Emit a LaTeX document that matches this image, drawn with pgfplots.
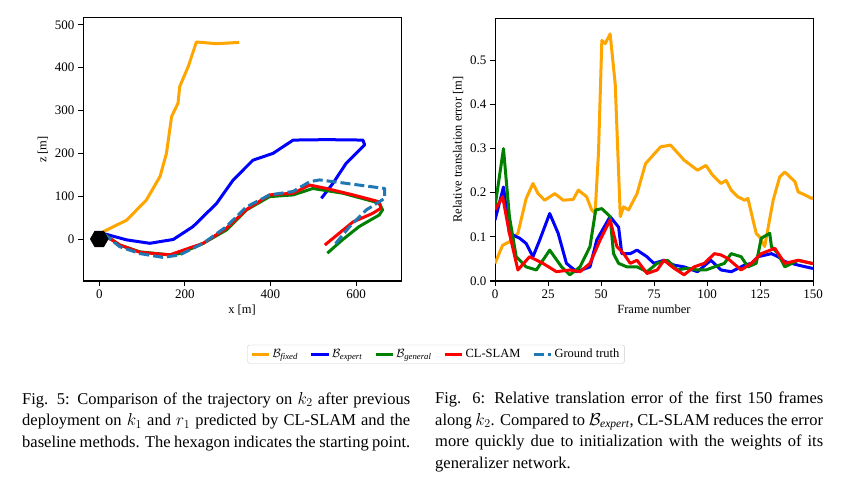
\documentclass[border=0pt]{standalone}
\usepackage{pgfplots}
\pgfplotsset{compat=1.18}
\usepackage{fontspec}
\setmainfont{Liberation Serif}
\definecolor{gt}{RGB}{31,119,180}
\definecolor{myor}{RGB}{255,165,0}
\definecolor{mygr}{RGB}{0,128,0}
\pgfdeclareplotmark{hexagon}{%
\pgfpathmoveto{\pgfqpointpolar{0}{\pgfplotmarksize}}%
\pgfpathlineto{\pgfqpointpolar{60}{\pgfplotmarksize}}%
\pgfpathlineto{\pgfqpointpolar{120}{\pgfplotmarksize}}%
\pgfpathlineto{\pgfqpointpolar{180}{\pgfplotmarksize}}%
\pgfpathlineto{\pgfqpointpolar{240}{\pgfplotmarksize}}%
\pgfpathlineto{\pgfqpointpolar{300}{\pgfplotmarksize}}%
\pgfpathclose\pgfusepathqfillstroke}
\begin{document}
\begin{tikzpicture}[x=1pt,y=1pt]
\path[fill=white] (0,0) rectangle (843,-494);
\pgfplotsset{every axis/.append style={scale only axis,width=318pt,height=263pt,
 tick label style={font=\fontsize{13}{14}\selectfont},label style={font=\fontsize{12.5}{14}\selectfont},
 /pgf/number format/assume math mode=true, tick align=outside, tick pos=left, axis line style={line width=1pt},
 major tick length=5pt, every tick/.style={line width=1pt,black},
 every axis plot/.append style={line width=3pt, line join=round}}}
\begin{axis}[at={(83pt,-281pt)},anchor=south west,xmin=-38,xmax=705,ymin=-98,ymax=516,
 xtick={0,200,400,600},ytick={0,100,200,300,400,500},xlabel={x [m]},ylabel={z [m]},
 legend columns=5, legend style={at={(1.11,-0.278)},anchor=center,font=\fontsize{12.5}{14}\selectfont,
 draw=black!20, rounded corners=2pt, /tikz/every even column/.append style={column sep=10pt}},
 legend cell align=left]
\addplot[myor] coordinates {(9,17)(64,44)(110,91)(142,146)(157,200)(169,286)(184,317)(188,356)(208,403)(227,460)(274,456)(327,459)};
\addlegendentry{$\mathcal{B}_{\mathit{fixed}}$}
\addplot[blue] coordinates {(9,13)(64,-2)(118,-10)(173,-1)(219,29)(274,83)(313,138)(359,184)(406,200)(453,231)(531,232)(616,231)(620,220)(577,177)(546,130)(519,95)};
\addlegendentry{$\mathcal{B}_{\mathit{expert}}$}
\addplot[mygr] coordinates {(9,13)(48,-14)(95,-30)(165,-37)(188,-34)(243,-10)(297,21)(344,68)(398,99)(453,103)(499,118)(569,107)(654,84)(662,68)(654,56)(607,29)(568,-2)(533,-33)};
\addlegendentry{$\mathcal{B}_{\mathit{general}}$}
\addplot[red] coordinates {(9,11)(48,-14)(95,-31)(165,-37)(196,-26)(243,-10)(297,25)(344,69)(398,103)(453,107)(492,126)(531,118)(593,103)(654,87)(658,72)(639,60)(593,40)(527,-14)};
\addlegendentry{CL-SLAM}
\addplot[gt,dash pattern=on 10pt off 4pt] coordinates {(9,13)(48,-18)(95,-34)(149,-43)(188,-37)(243,-10)(297,29)(344,75)(398,103)(453,111)(492,134)(515,138)(569,131)(667,118)(667,95)(624,68)(585,29)(546,-18)};
\addlegendentry{Ground truth}
\addplot[forget plot,only marks,mark=hexagon,mark size=9pt,black,fill=black,line width=0.5pt] coordinates {(0,0)};
\end{axis}
\begin{axis}[at={(495pt,-281pt)},anchor=south west,xmin=0,xmax=150,ymin=0,ymax=0.596,
 xtick={0,25,50,75,100,125,150},ytick={0,0.1,0.2,0.3,0.4,0.5},
 yticklabel style={/pgf/number format/fixed,/pgf/number format/fixed zerofill,/pgf/number format/precision=1},
 xlabel={Frame number},ylabel={Relative translation error [m]}]
\addplot[myor] coordinates {(0,0.040)(3.6,0.081)(6.8,0.089)(10.8,0.108)(14.7,0.187)(17.9,0.221)(20.3,0.198)(23.4,0.183)(28.2,0.198)(32.2,0.183)(36.9,0.185)(39.3,0.206)(43.2,0.191)(45.6,0.161)(47.2,0.153)(48.8,0.289)(50.4,0.545)(52.0,0.538)(54.3,0.560)(56.7,0.447)(59.1,0.146)(60.7,0.168)(63.0,0.161)(67.0,0.198)(71.0,0.266)(78.1,0.304)(82.8,0.308)(89.2,0.274)(95.5,0.251)(99.5,0.262)(102.6,0.240)(106.6,0.221)(109.0,0.228)(111.4,0.206)(114.5,0.191)(117.7,0.183)(119.3,0.187)(123.2,0.108)(124.8,0.100)(127.2,0.078)(131.2,0.183)(134.3,0.236)(136.7,0.247)(141.5,0.225)(143.0,0.202)(146.2,0.195)(149.4,0.187)(150,0.19)};
\addplot[blue] coordinates {(0,0.138)(4.0,0.213)(6.8,0.108)(11.6,0.097)(14.7,0.085)(17.9,0.055)(21.1,0.093)(25.8,0.153)(29.8,0.108)(33.7,0.040)(38.5,0.021)(44.8,0.032)(48.0,0.093)(54.3,0.146)(58.3,0.122)(59.8,0.062)(63.8,0.062)(67.0,0.070)(71.7,0.055)(74.9,0.040)(79.7,0.047)(84.4,0.036)(89.2,0.032)(95.5,0.021)(101.8,0.047)(106.6,0.025)(111.4,0.021)(117.7,0.036)(120.9,0.040)(124.0,0.055)(130.4,0.062)(133.5,0.055)(136.7,0.044)(143.0,0.036)(149.4,0.029)(150,0.028)};
\addplot[mygr] coordinates {(0,0.168)(4.0,0.300)(6.8,0.146)(10.0,0.055)(14.7,0.032)(19.5,0.025)(25.8,0.070)(31.4,0.032)(35.3,0.014)(40.1,0.032)(44.8,0.078)(47.5,0.161)(50.4,0.164)(54.3,0.146)(55.9,0.062)(58.3,0.040)(62.2,0.032)(67.0,0.032)(71.7,0.021)(76.5,0.040)(81.3,0.047)(86.0,0.025)(90.8,0.029)(95.5,0.025)(99.5,0.025)(103.5,0.032)(108.2,0.040)(111.4,0.062)(116.1,0.055)(119.3,0.032)(123.2,0.040)(125.6,0.097)(129.6,0.108)(130.4,0.078)(133.5,0.062)(136.7,0.032)(143.0,0.047)(149.4,0.040)(150,0.04)};
\addplot[red] coordinates {(0,0.161)(3.6,0.191)(6.8,0.108)(10.8,0.025)(16.3,0.055)(22.6,0.040)(29.0,0.021)(35.3,0.025)(40.1,0.021)(44.8,0.040)(49.6,0.093)(54.3,0.138)(57.5,0.078)(60.7,0.062)(63.8,0.040)(67.0,0.047)(71.7,0.017)(76.5,0.025)(79.7,0.047)(84.4,0.029)(89.2,0.014)(93.9,0.032)(98.7,0.040)(103.5,0.062)(106.6,0.059)(109.8,0.051)(116.1,0.025)(120.9,0.040)(125.6,0.062)(132.0,0.074)(136.7,0.040)(143.0,0.047)(149.4,0.040)(150,0.04)};
\end{axis}
\node[anchor=north west,text width=388pt,align=justify,inner sep=0pt,font=\fontsize{16.5}{21.5}\selectfont] at (22,-392)
{Fig. 5: Comparison of the trajectory on $k_2$ after previous deployment on $k_1$ and $r_1$ predicted by CL-SLAM and the baseline methods. The hexagon indicates the starting point.};
\node[anchor=north west,text width=388pt,align=justify,inner sep=0pt,font=\fontsize{16.5}{21.5}\selectfont] at (435,-392)
{Fig. 6: Relative translation error of the first 150 frames along $k_2$. Compared to $\mathcal{B}_{\mathit{expert}}$, CL-SLAM reduces the error more quickly due to initialization with the weights of its generalizer network.};
\end{tikzpicture}
\end{document}
